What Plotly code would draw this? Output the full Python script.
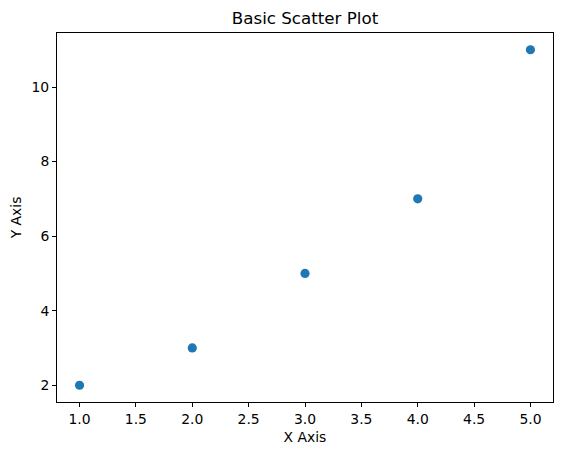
import plotly.graph_objects as go

# data
x_values = [1, 2, 3, 4, 5]
y_values = [2, 3, 5, 7, 11]
x_ticks = [1.0, 1.5, 2.0, 2.5, 3.0, 3.5, 4.0, 4.5, 5.0]
y_ticks = [2, 4, 6, 8, 10]

FONT = "DejaVu Sans"
# the page body has an 8px margin, so the figure is 8px smaller each way
W, H = 554, 447

fig = go.Figure(
    go.Scatter(
        x=x_values,
        y=y_values,
        mode="markers",
        marker={"color": "#1f77b4", "size": 9.2},
    )
)

axis_style = dict(
    showline=True,
    linecolor="black",
    linewidth=1,
    mirror=True,
    ticks="outside",
    ticklen=4,
    tickwidth=1,
    tickcolor="black",
    showgrid=False,
    zeroline=False,
    automargin=False,
    tickfont={"family": FONT, "size": 13.9, "color": "black"},
)

fig.update_layout(
    width=W,
    height=H,
    autosize=False,
    plot_bgcolor="white",
    paper_bgcolor="white",
    margin={"l": 49, "r": 9, "t": 24.5, "b": 53},
    showlegend=False,
    title={
        "text": "Basic Scatter Plot",
        "x": 297 / W,
        "xanchor": "center",
        "y": 1 - 10 / H,
        "yanchor": "middle",
        "font": {"family": FONT, "size": 16.7, "color": "black"},
    },
    xaxis=dict(
        axis_style,
        range=[0.8, 5.2],
        tickvals=x_ticks,
        ticktext=[f"{v:.1f}" for v in x_ticks],
        title={"text": "X Axis", "font": {"family": FONT, "size": 13.9, "color": "black"}, "standoff": 6},
    ),
    yaxis=dict(
        axis_style,
        range=[1.55, 11.45],
        tickvals=y_ticks,
        title={"text": "Y Axis", "font": {"family": FONT, "size": 13.9, "color": "black"}, "standoff": 6},
    ),
)

fig.write_html("out.html")
